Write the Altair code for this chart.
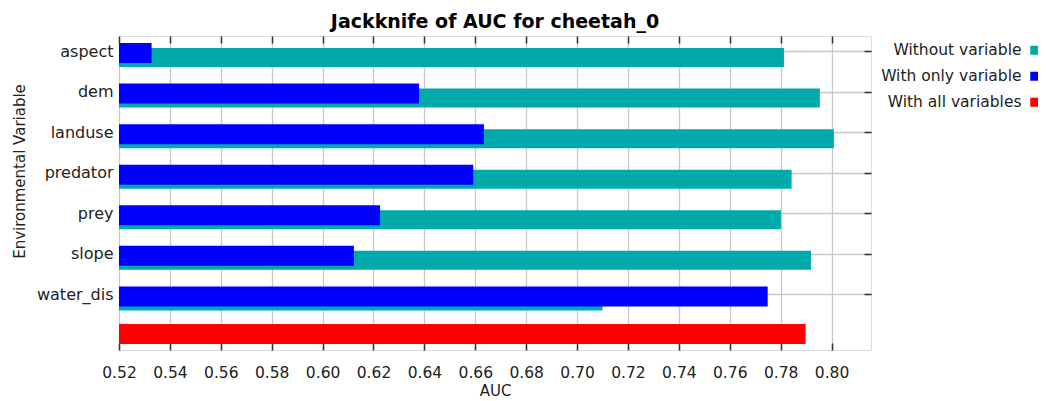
import altair as alt
import pandas as pd

# ---- data ----
VARIABLES = ["aspect", "dem", "landuse", "predator", "prey", "slope", "water_dis"]
WITHOUT_VARIABLE = [0.7813, 0.7954, 0.8009, 0.7843, 0.7801, 0.7919, 0.7100]
WITH_ONLY_VARIABLE = [0.5328, 0.6379, 0.6634, 0.6592, 0.6226, 0.6123, 0.7749]
ALL_ROW = "all"
WITH_ALL_VARIABLES = [0.7898]
SERIES = ["Without variable", "With only variable", "With all variables"]
COLORS = ["#00aaaa", "#0000ff", "#ff0000"]
X_TICKS = [0.52, 0.54, 0.56, 0.58, 0.60, 0.62, 0.64, 0.66, 0.68, 0.70,
           0.72, 0.74, 0.76, 0.78, 0.80]
X_DOMAIN = [0.52, 0.8155]
TITLE = "Jackknife of AUC for cheetah_0"

FONT = "DejaVu Sans"
TEXT_COLOR = "#222222"
TICK_COLOR = "#333333"


def frame(variables, values, series):
    return pd.DataFrame({
        "variable": variables, "value": values,
        "series": series, "series_name": series,
    })


without_df = frame(VARIABLES, WITHOUT_VARIABLE, SERIES[0])
only_df = frame(VARIABLES, WITH_ONLY_VARIABLE, SERIES[1])
all_df = frame([ALL_ROW], WITH_ALL_VARIABLES, SERIES[2])

x_scale = alt.Scale(domain=X_DOMAIN, nice=False, zero=False)
y_scale = alt.Scale(type="point", domain=VARIABLES + [ALL_ROW], padding=0.37)
color_scale = alt.Scale(domain=SERIES, range=COLORS)
# a distinct domain keeps Vega-Lite from merging the two legends
opacity_scale = alt.Scale(domain=SERIES + ["-"], range=[1, 1, 1, 1])

# colour swatches (no label text) sit to the right of a label-only legend
swatch_legend = alt.Legend(
    orient="none", legendX=908, legendY=6.5, direction="vertical",
    symbolType="square", symbolSize=81, symbolStrokeWidth=0,
    labelFont=FONT, labelFontSize=15.5, labelExpr="''",
    rowPadding=9, padding=0, title=None,
)
label_legend = alt.Legend(
    orient="none", legendX=887, legendY=6.5, direction="vertical", values=SERIES,
    symbolType="square", symbolSize=64, symbolStrokeWidth=0, symbolOpacity=0,
    symbolFillColor="transparent",
    labelAlign="right", labelOffset=0, labelLimit=300,
    labelFont=FONT, labelFontSize=15.5, labelColor=TEXT_COLOR,
    rowPadding=9, padding=0, title=None,
)

x_axis_labels = alt.Axis(
    orient="bottom", values=X_TICKS, format=".2f", ticks=False, tickSize=0,
    domain=False, grid=True, gridColor="#c8c8c8", gridWidth=1.3,
    labelFont=FONT, labelFontSize=15.5, labelColor=TEXT_COLOR, labelPadding=15,
    labelOverlap=False, labelFlush=False,
    title="AUC", titleFont=FONT, titleFontSize=15, titleFontWeight="normal",
    titleColor=TEXT_COLOR, titlePadding=3,
)
x_axis_bottom_ticks = alt.Axis(
    orient="bottom", values=X_TICKS, offset=-7, tickSize=7, tickColor=TICK_COLOR,
    tickWidth=1.5, labels=False, domain=False, grid=False, title=None, zindex=1,
)
x_axis_top_ticks = alt.Axis(
    orient="top", values=X_TICKS, offset=-7, tickSize=7, tickColor=TICK_COLOR,
    tickWidth=1.5, labels=False, domain=False, grid=False, title=None, zindex=1,
)
y_axis_labels = alt.Axis(
    orient="left", values=VARIABLES, ticks=False, tickSize=0, domain=False,
    grid=True, gridColor="#c8c8c8", gridWidth=1.3,
    labelFont=FONT, labelFontSize=16, labelColor=TEXT_COLOR, labelPadding=6,
    title="Environmental Variable", titleFont=FONT, titleFontSize=15,
    titleFontWeight="normal", titleColor=TEXT_COLOR, titlePadding=9, titleY=135,
)
y_axis_right_ticks = alt.Axis(
    orient="right", values=VARIABLES, offset=-7, tickSize=7, tickColor=TICK_COLOR,
    tickWidth=1.5, labels=False, domain=False, grid=False, title=None, zindex=1,
)


def bars(df, x_axis, y_axis, height, y_offset):
    return alt.Chart(df).mark_bar(height=height, yOffset=y_offset).encode(
        x=alt.X("value:Q", scale=x_scale, axis=x_axis),
        x2=alt.datum(X_DOMAIN[0]),
        y=alt.Y("variable:N", scale=y_scale, axis=y_axis, sort=VARIABLES + [ALL_ROW]),
        color=alt.Color("series:N", scale=color_scale, legend=swatch_legend),
        opacity=alt.Opacity("series_name:N", scale=opacity_scale, legend=label_legend),
    )


teal = bars(without_df, x_axis_labels, y_axis_labels, 19, 6.5)
blue = bars(only_df, x_axis_bottom_ticks, y_axis_right_ticks, 20, 2)
red = bars(all_df, x_axis_top_ticks, None, 20, -1)

chart = (
    alt.layer(teal, blue, red)
    .resolve_axis(x="independent", y="independent")
    .properties(
        width=752, height=314,
        padding={"left": 111, "top": 28, "right": 167, "bottom": 50},
        autosize=alt.AutoSizeParams(type="none"),
        title=alt.TitleParams(
            TITLE, anchor="middle", font=FONT, fontSize=19, fontWeight="bold",
            color="#000000", baseline="alphabetic", offset=8, dy=20,
        ),
    )
    .configure_view(stroke="#333333", strokeWidth=2)
    .configure(background="white", font=FONT)
)

chart.save("out.html", embed_options={"renderer": "svg", "actions": False})
